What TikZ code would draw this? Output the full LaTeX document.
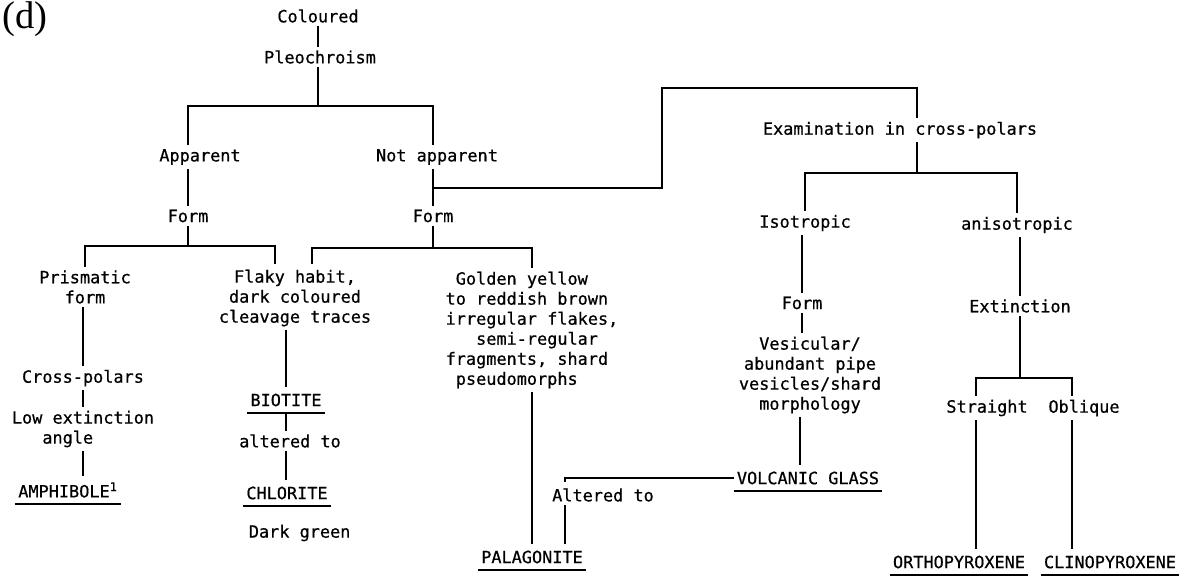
\documentclass[tikz,border=0pt]{standalone}
\usepackage{fontspec}
\newfontfamily\tapefont[FakeBold=0.6]{DejaVu Sans Mono}
\newfontfamily\tagfont{Liberation Serif}
\usetikzlibrary{positioning}

\begin{document}
\begin{tikzpicture}[
    x=0.02cm, y=-0.02cm,
    txt/.style={font=\tapefont\fontsize{9.6}{11.4}\selectfont, align=center, inner sep=2pt},
    mineral/.style={txt, inner xsep=1.7pt, inner ysep=3.4pt},
    link/.style={line width=1pt},
    rule/.style={line width=0.9pt}
]
\useasboundingbox (0,0) rectangle (1186,576);

% Panel letter
\node[font=\tagfont\fontsize{22}{24}\selectfont, inner sep=0pt] (panel) at (25,19) {(d)};

% Top: colour and pleochroism
\node[txt] (col) at (318,16) {Coloured};
\node[txt] (pleo) at (320,57) {Pleochroism};
\node[txt] (app) at (200,157) {Apparent};
\node[txt] (nap) at (437,157) {Not apparent};
\node[txt] (form1) at (188,216) {Form};
\node[txt] (form2) at (433,216) {Form};
\coordinate (b1) at (318,106);

\draw[link] (col) -- (col |- pleo.north);
\draw[link] (pleo.south -| b1) -- (b1);
\draw[link] (form1 |- app.north) |- (b1) -| (form2 |- nap.north);

% Left side: pleochroism apparent
\node[txt] (prism) at (85,287) {Prismatic\\form};
\node[txt] (flaky) at (295,298) {Flaky habit,\\dark coloured\\cleavage traces};
\node[txt] (cross) at (83,378) {Cross-polars};
\node[txt, align=left] (lowext) at (83,429) {Low extinction\\\hphantom{xxx}angle};
\node[mineral] (amph) at (68,490) {AMPHIBOLE\textsuperscript{1}};
\node[mineral] (biot) at (286,400) {BIOTITE};
\node[txt] (alt1) at (290,441) {altered to};
\node[mineral] (chlo) at (287,493) {CHLORITE};
\node[txt, anchor=west] (dkgr) at (245,533) {Dark green};
\coordinate (b4) at (188,246);
\coordinate (fl1) at (275,264);

\draw[link] (form1 |- app.south) -- (form1);
\draw[link] (form1) -- (b4);
\draw[link] (prism.north) |- (b4) -| (fl1);
\draw[link] (cross |- prism.south) -- (cross);
\draw[link] (cross) -- (cross |- lowext.north);
\draw[link] (cross |- lowext.south) -- (cross |- amph.north);
\draw[link] (biot |- flaky.south) -- (biot);
\draw[link] (biot.south) -- (biot.south |- alt1.north);
\draw[link] (biot |- alt1.south) -- (biot |- chlo.north);

% Middle: pleochroism not apparent
\node[txt, align=left] (golden) at (532,330) {\hphantom{x}Golden yellow\\to reddish brown\\irregular flakes,\\\hphantom{xxx}semi-regular\\fragments, shard\\\hphantom{x}pseudomorphs};
\node[mineral] (pala) at (532,557) {PALAGONITE};
\node[txt] (altto) at (603,495) {Altered to};
\coordinate (b5) at (433,248);
\coordinate (fl2) at (312,264);
\coordinate (a1) at (565,482);

\draw[link] (form2 |- nap.south) -- (form2);
\draw[link] (form2) -- (b5);
\draw[link] (fl2) |- (b5) -| (golden.north);
\draw[link] (golden) -- (pala);

% Right side: examination in cross-polars
\node[txt] (exam) at (900,130) {Examination in cross-polars};
\coordinate (nx) at (433,188);
\coordinate (k1) at (662,88);
\coordinate (k2) at (917,88);
\coordinate (b6) at (917,173);

\draw[link] (nx) -| (k1) -- (k2) -- (k2 |- exam.north);
\draw[link] (k2 |- exam.south) -- (b6);

\node[txt] (iso) at (805,223) {Isotropic};
\node[txt] (aniso) at (1017,225) {anisotropic};
\node[txt] (form3) at (802,303) {Form};
\node[txt] (vesic) at (810,375) {Vesicular/\\abundant pipe\\vesicles/shard\\morphology};
\node[mineral] (volc) at (808,478) {VOLCANIC GLASS};

\draw[link] (iso.north) |- (b6) -| (aniso.north);
\draw[link] (form3 |- iso.south) -- (form3);
\draw[link] (form3) -- (form3 |- vesic.north);
\draw[link] ([xshift=-0.2cm]vesic.south) -- ([xshift=-0.2cm]vesic.south |- volc.north);
\draw[link] (volc.west) -| (a1);
\draw[link] (a1 |- altto.south) -- (a1 |- pala.north);

% Extinction
\node[txt] (ext) at (1020,306) {Extinction};
\node[txt] (str) at (987,408) {Straight};
\node[txt] (obl) at (1084,408) {Oblique};
\node[mineral] (orth) at (959,562) {ORTHOPYROXENE};
\node[mineral] (clin) at (1110,562) {CLINOPYROXENE};
\coordinate (b7) at (1020,378);
\coordinate (s1) at (976,378);
\coordinate (s2) at (1072,378);

\draw[link] (ext |- aniso.south) -- (ext);
\draw[link] (ext) -- (b7);
\draw[link] (s1 |- str.north) -- (s1) -- (s2) -- (s2 |- obl.north);
\draw[link] (s1 |- str.south) -- (s1 |- orth.north);
\draw[link] (s2 |- obl.south) -- (s2 |- clin.north);

% Underlined mineral names
\foreach \m in {amph,biot,chlo,pala,volc,orth,clin}
  \draw[rule] (\m.south west) -- (\m.south east);

\end{tikzpicture}
\end{document}
